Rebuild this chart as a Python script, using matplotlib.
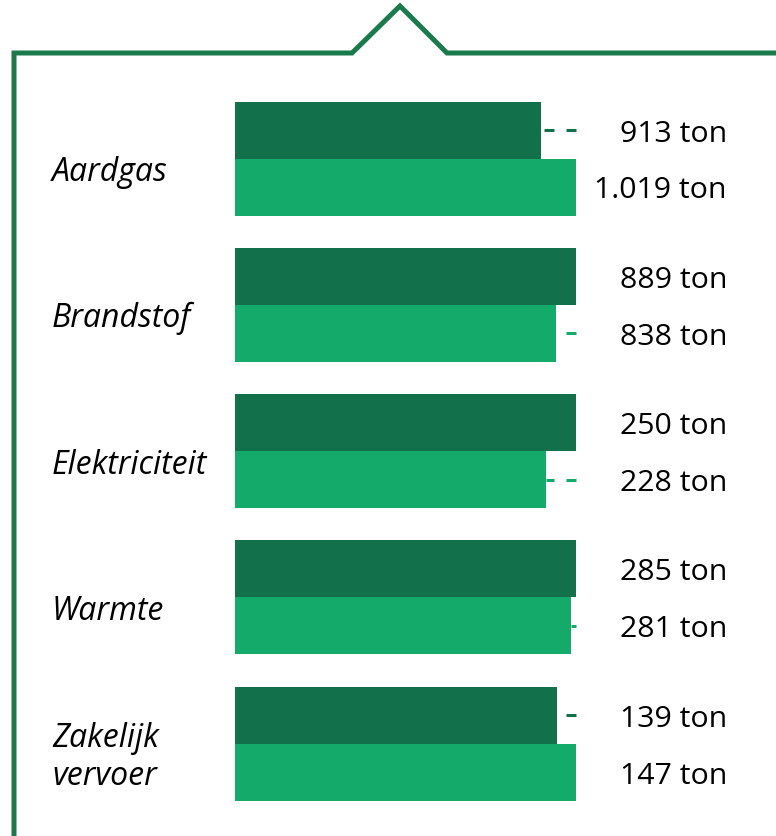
import matplotlib
matplotlib.use("Agg")
import matplotlib.pyplot as plt
from matplotlib.transforms import blended_transform_factory, offset_copy

categories = ["Aardgas", "Brandstof", "Elektriciteit", "Warmte", "Zakelijk\nvervoer"]
values_prev = [913, 889, 250, 285, 139]
values_curr = [1019, 838, 228, 281, 147]
labels_prev = ["913 ton", "889 ton", "250 ton", "285 ton", "139 ton"]
labels_curr = ["1.019 ton", "838 ton", "228 ton", "281 ton", "147 ton"]

DARK = "#12714a"
LIGHT = "#13aa6a"
FRAME = "#1a7a4c"

plt.rcParams["font.family"] = ["Open Sans", "DejaVu Sans"]
plt.rcParams["lines.scale_dashes"] = False

W, H = 776, 837
fig = plt.figure(figsize=(W / 100, H / 100), dpi=100)

# frame overlay (pixel coords)
fr = fig.add_axes([0, 0, 1, 1])
fr.set_xlim(0, W)
fr.set_ylim(H, 0)
fr.axis("off")
fr.plot([14, 14, 352, 400, 447, W + 5], [H + 5, 54, 54, 7, 54, 54],
        color=FRAME, lw=3.6, solid_joinstyle="miter", clip_on=False)

# bars axes
x0, x1 = 235, 576
spacing = 146.3
first_center = 159.5
ax = fig.add_axes([x0 / W, 0, (x1 - x0) / W, 1])
ax.set_xlim(0, 1)
ax.set_ylim((H - first_center) / spacing, -first_center / spacing)
ax.axis("off")

bh = 57 / spacing
tr_fig_data = blended_transform_factory(fig.transFigure, ax.transData)
tr_val = offset_copy(tr_fig_data, fig=fig, x=0, y=-3, units="dots")
tr_cat = offset_copy(tr_fig_data, fig=fig, x=0, y=-13, units="dots")

dash = (10 * 0.72, 12 * 0.72)

for i, cat in enumerate(categories):
    mx = max(values_prev[i], values_curr[i])
    p = values_prev[i] / mx
    c = values_curr[i] / mx
    yp = i - bh / 2
    yc = i + bh / 2
    ax.barh(yp, p, height=bh, left=0, color=DARK, align="center", linewidth=0)
    ax.barh(yc, c, height=bh, left=0, color=LIGHT, align="center", linewidth=0)
    if p < 1:
        ax.plot([1, p], [yp, yp], color=DARK, lw=2.2, dashes=dash,
                dash_capstyle="butt", clip_on=False)
    if c < 1:
        ax.plot([1, c], [yc, yc], color=LIGHT, lw=2.2, dashes=dash,
                dash_capstyle="butt", clip_on=False)
    ax.text(727 / W, yp, labels_prev[i], transform=tr_val, ha="right", va="center",
            fontsize=21.8, color="#000000")
    ax.text(727 / W, yc, labels_curr[i], transform=tr_val, ha="right", va="center",
            fontsize=21.8, color="#000000")
    ax.text(52 / W, i, cat, transform=tr_cat, ha="left", va="center",
            fontsize=23, style="italic", color="#000000", linespacing=1.2)

fig.savefig("out.png", dpi=100)
